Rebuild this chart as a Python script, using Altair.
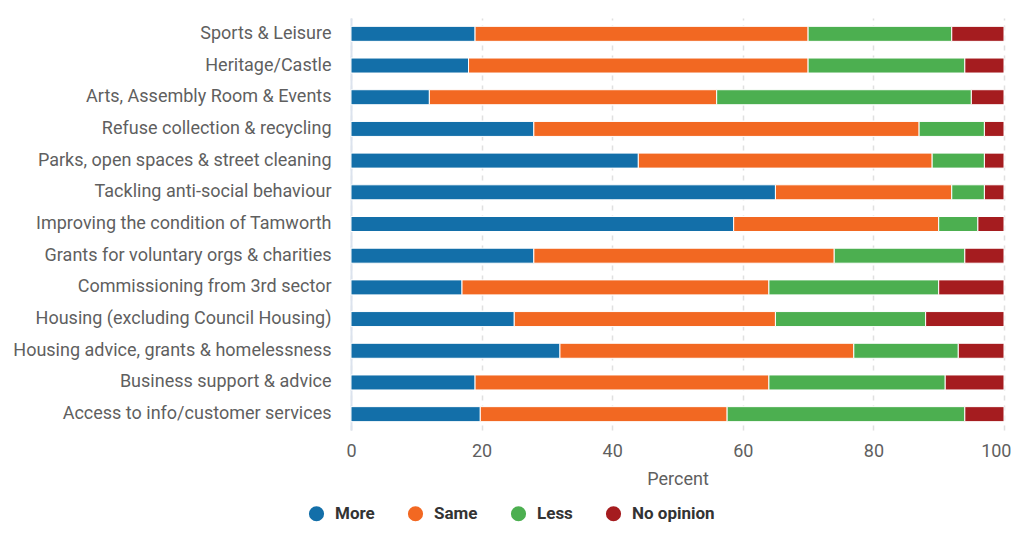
import altair as alt
import pandas as pd

categories = [
    "Sports & Leisure",
    "Heritage/Castle",
    "Arts, Assembly Room & Events",
    "Refuse collection & recycling",
    "Parks, open spaces & street cleaning",
    "Tackling anti-social behaviour",
    "Improving the condition of Tamworth",
    "Grants for voluntary orgs & charities",
    "Commissioning from 3rd sector",
    "Housing (excluding Council Housing)",
    "Housing advice, grants & homelessness",
    "Business support & advice",
    "Access to info/customer services",
]
more = [19, 18, 12, 28, 44, 65, 58.6, 28, 17, 25, 32, 19, 19.8]
same = [51, 52, 44, 59, 45, 27, 31.4, 46, 47, 40, 45, 45, 37.8]
less = [22, 24, 39, 10, 8, 5, 6, 20, 26, 23, 16, 27, 36.4]
no_opinion = [8, 6, 5, 3, 3, 3, 4, 6, 10, 12, 7, 9, 6]

series = ["More", "Same", "Less", "No opinion"]
colors = ["#136fa9", "#f26822", "#4caf50", "#a51c1f"]

rows = []
for i, c in enumerate(categories):
    for j, (s, vals) in enumerate(zip(series, [more, same, less, no_opinion])):
        rows.append({"category": c, "series": s, "value": vals[i], "order": j})
df = pd.DataFrame(rows)

chart = (
    alt.Chart(df)
    .mark_bar(stroke="white", strokeWidth=1, height=15)
    .encode(
        y=alt.Y("category:N", sort=categories, title=None,
                axis=alt.Axis(labelFontSize=18, labelColor="#5f5f5f", labelPadding=20,
                              labelLimit=400, grid=False,
                              ticks=False, domain=True, domainColor="#dce3ee", domainWidth=2,
                              labelFont="Roboto")),
        x=alt.X("value:Q", stack="zero", title="Percent",
                scale=alt.Scale(domain=[0, 100], nice=False),
                axis=alt.Axis(values=[0, 20, 40, 60, 80, 100], labelFontSize=18,
                              labelColor="#5f5f5f", titleColor="#5f5f5f", titleFontSize=18,
                              titleFontWeight="normal", labelFont="Roboto", titleFont="Roboto",
                              grid=True, gridDash=[5, 5], gridColor="#e0e0e0", gridWidth=1.5,
                              labelFlush=False, labelBound=False,
                              labelAlign={"condition": {"test": "datum.value == 100", "value": "right"}, "value": "center"},
                              labelOffset={"condition": {"test": "datum.value == 100", "value": 7}, "value": 0},
                              domain=False, ticks=False, labelPadding=12, titlePadding=10)),
        color=alt.Color("series:N", sort=series,
                        scale=alt.Scale(domain=series, range=colors),
                        legend=alt.Legend(title=None, orient="none", direction="horizontal",
                                          legendX=-43, legendY=487, symbolType="circle",
                                          symbolSize=230, labelFontSize=17, labelFont="Roboto",
                                          labelFontWeight="bold", labelColor="#333333",
                                          labelOffset=10,
                                          columnPadding=32, symbolStrokeWidth=0,
                                          symbolOpacity=1)),
        order=alt.Order("order:Q", sort="ascending"),
    )
    .properties(width=653, height=412,
                autosize=alt.AutoSizeParams(type="none"),
                padding={"left": 343, "top": 10, "right": 8, "bottom": 96})
    .configure(font="Roboto")
    .configure_view(stroke="transparent", strokeWidth=0)
)

chart.save("out.html", embed_options={"renderer": "svg", "actions": False})
